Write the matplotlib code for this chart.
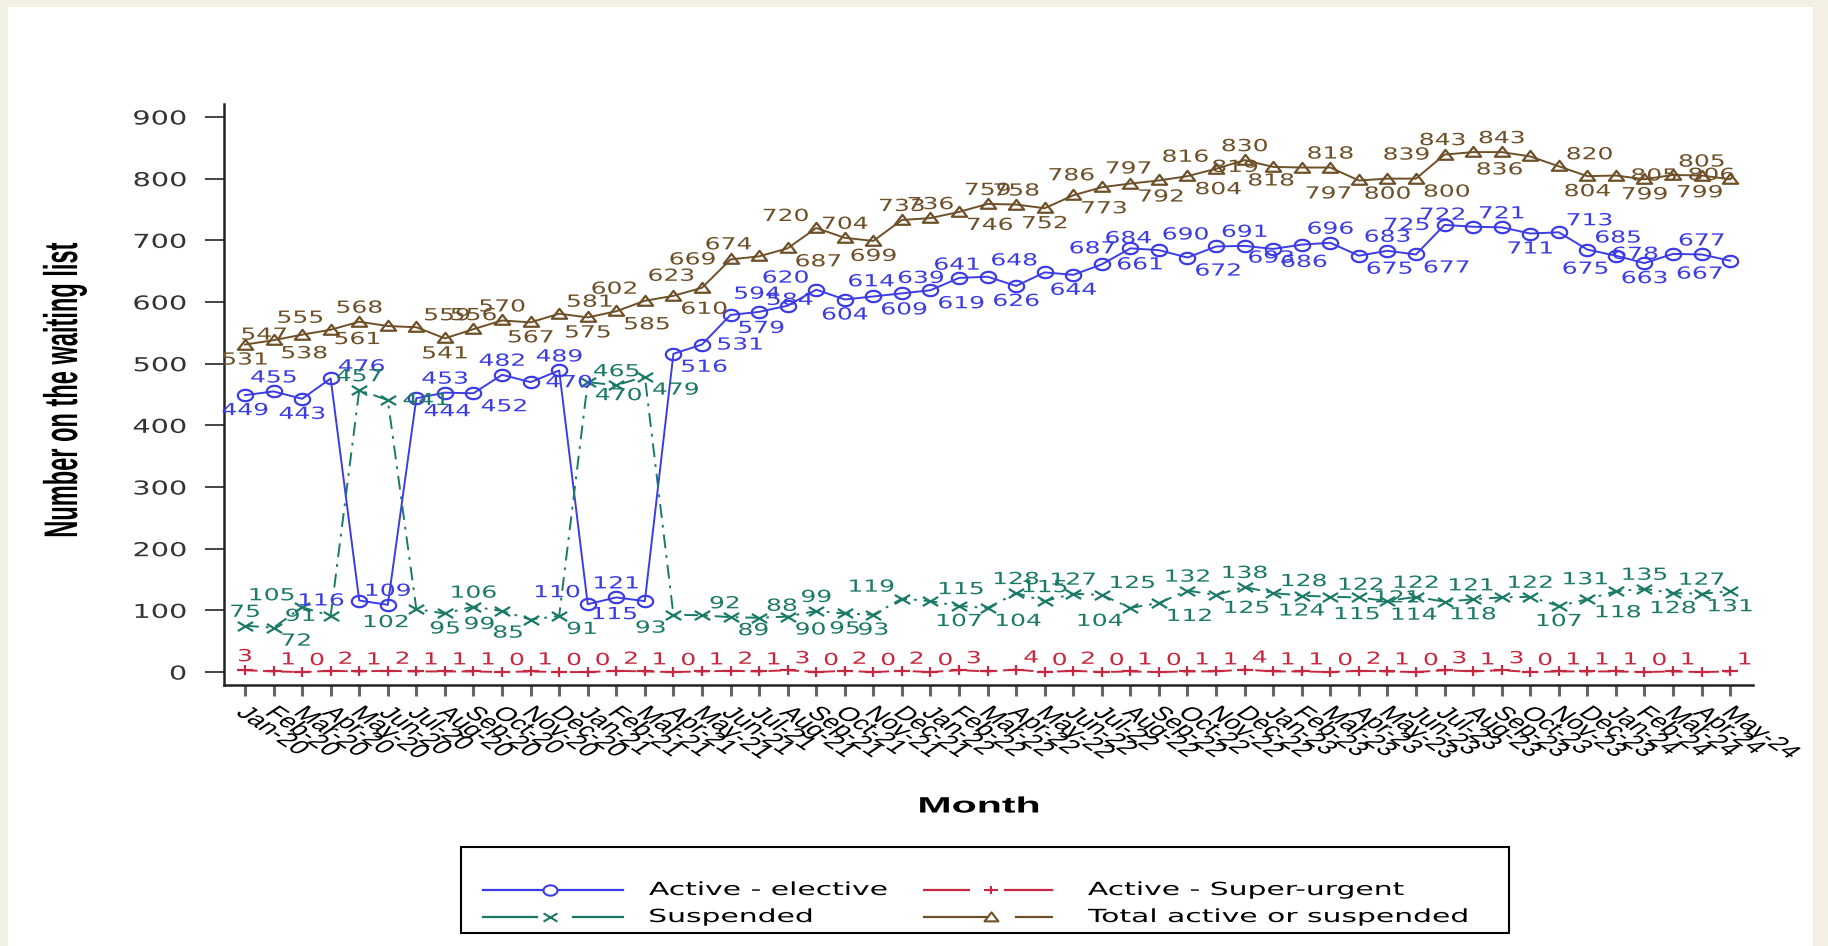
import numpy as np
import matplotlib
matplotlib.use("Agg")
import matplotlib.pyplot as plt
from matplotlib.path import Path
from matplotlib.patheffects import AbstractPathEffect
from matplotlib.transforms import Affine2D
from matplotlib.lines import Line2D
from matplotlib.patches import Rectangle

# ---- data -------------------------------------------------------------
month_names = ["Jan", "Feb", "Mar", "Apr", "May", "Jun",
               "Jul", "Aug", "Sep", "Oct", "Nov", "Dec"]
years = ["20", "21", "22", "23", "24"]
n_months = 53
months = [f"{m}-{y}" for y in years for m in month_names][:n_months]

elective = [449, 455, 443, 476, 116, 109, 444, 453, 452, 482, 470, 489, 110, 121,
            115, 516, 531, 579, 584, 594, 620, 604, 609, 614, 619, 639, 641, 626,
            648, 644, 661, 687, 684, 672, 690, 691, 686, 693, 696, 675, 683, 677,
            725, 722, 721, 711, 713, 685, 675, 663, 678, 677, 667]
super_urgent = [3, 1, 0, 2, 1, 2, 1, 1, 1, 0, 1, 0, 0, 2, 1, 0, 1, 2, 1, 3, 0, 2,
                0, 2, 0, 3, 1, 4, 0, 2, 0, 1, 0, 1, 1, 4, 1, 1, 0, 2, 1, 0, 3, 1,
                3, 0, 1, 1, 1, 0, 1, 0, 1]
suspended = [75, 72, 105, 91, 457, 441, 102, 95, 106, 99, 85, 91, 470, 465, 479,
             93, 92, 89, 88, 90, 99, 95, 93, 119, 115, 107, 104, 128, 115, 127,
             125, 104, 112, 132, 125, 138, 128, 124, 122, 121, 115, 122, 114, 118,
             121, 122, 107, 118, 131, 135, 128, 127, 131]
total = [531, 538, 547, 555, 568, 561, 559, 541, 556, 570, 567, 581, 575, 585,
         602, 610, 623, 669, 674, 687, 720, 704, 699, 733, 736, 746, 759, 758,
         752, 773, 786, 792, 797, 804, 816, 830, 819, 818, 818, 797, 800, 800,
         839, 843, 843, 836, 820, 804, 805, 799, 806, 805, 799]

# where each point label sits (compass direction, "-" = not shown)
elective_pos = ("S N S NE W N SE N SE N E N NW N SW SE E SE NE NW NW S SE NW SE W "
                "NW S NW S E W NW SE NW N SE SW N SE N SE W NW N S NE NE SW S W N SW").split()
suspended_pos = ("N SE NW W N E SW S N SW SW SE SE N SE SW NE SE NE SE N S S NW NE S "
                 "SE N N N NE SW SE N SE N NE S NE E SW N SW S NW N S SE NW N S N S").split()
total_pos = ("S SE W NW N SW NE S N N S NE S SE NW SE NW W NW SE NW N S N N SE N N S SE "
             "NW SE NW SE NW N W SW N SW S SE W NW N SW NE S E S E N SW").split()
urgent_pos = ["N"] + ["NE"] * 52
urgent_pos[26] = "-"
urgent_pos[51] = "-"

series_names = ["Active - elective", "Active - Super-urgent",
                "Suspended", "Total active or suspended"]

BLUE = "#3c3ce6"
RED = "#c8283f"
TEAL = "#1b7a67"
BROWN = "#6e5028"
BEIGE = "#f2f0e2"

W, H = 1828, 946
SX = 1.5      # horizontal widening of glyphs
MX = 1.35     # horizontal widening of markers


class StretchX(AbstractPathEffect):
    """Widen text glyphs horizontally around the left, centre or right edge."""

    def __init__(self, sx, about="center"):
        super().__init__()
        self.sx = sx
        self.about = about

    def draw_path(self, renderer, gc, tpath, affine, rgbFace=None):
        ext = tpath.get_extents(affine)
        if self.about == "left":
            cx = ext.x0
        elif self.about == "right":
            cx = ext.x1
        else:
            cx = 0.5 * (ext.x0 + ext.x1)
        aff = Affine2D(affine.get_matrix()).translate(-cx, 0).scale(self.sx, 1).translate(cx, 0)
        renderer.draw_path(gc, tpath, aff, rgbFace)


def wide(about="center", sx=SX):
    return [StretchX(sx, about)]


# stretched marker shapes
t = np.linspace(0, 2 * np.pi, 64)
circle_m = Path(np.column_stack([MX * np.cos(t), np.sin(t)]), closed=True)
tri_m = Path([(0, 1), (-MX, -0.75), (MX, -0.75), (0, 1)], closed=True)
x_m = Path([(-MX, -0.8), (MX, 0.8), (-MX, 0.8), (MX, -0.8)],
           [Path.MOVETO, Path.LINETO, Path.MOVETO, Path.LINETO])
plus_m = Path([(-MX, 0), (MX, 0), (0, -0.8), (0, 0.8)],
              [Path.MOVETO, Path.LINETO, Path.MOVETO, Path.LINETO])

plt.rcParams["lines.scale_dashes"] = False

fig = plt.figure(figsize=(W / 100, H / 100), dpi=100)
fig.patch.set_facecolor(BEIGE)
fig.add_artist(Rectangle((8 / W, 0), (1813 - 8) / W, (H - 7) / H,
                         transform=fig.transFigure, facecolor="white",
                         edgecolor="none", zorder=0))

ax = fig.add_axes([224 / W, 1 - 685 / H, (1753 - 224) / W, (685 - 104) / H])
ax.set_facecolor("white")
x = np.arange(n_months)

styles = [
    (elective, BLUE, circle_m, "-", elective_pos),
    (super_urgent, RED, plus_m, (0, (9, 4)), urgent_pos),
    (suspended, TEAL, x_m, (0, (10, 5, 2, 5)), suspended_pos),
    (total, BROWN, tri_m, "-", total_pos),
]

OFFS = {
    "N": (0, 5, "center", "bottom"),
    "S": (0, -6, "center", "top"),
    "E": (10, 0, "left", "center"),
    "W": (-10, 0, "right", "center"),
    "NE": (5, 3, "left", "bottom"),
    "NW": (-5, 3, "right", "bottom"),
    "SE": (5, -4, "left", "top"),
    "SW": (-5, -4, "right", "top"),
}

for vals, col, mk, ls, pos in styles:
    ax.plot(x, vals, color=col, lw=1.4, linestyle=ls, marker=mk, ms=11,
            mfc="none", mec=col, mew=1.6, zorder=3)
    for xi, v, p in zip(x, vals, pos):
        if p == "-":
            continue
        dx, dy, ha, va = OFFS[p]
        ax.annotate(str(v), (xi, v), xytext=(dx * SX, dy), textcoords="offset pixels",
                    ha=ha, va=va, color=col, fontsize=12, zorder=4,
                    annotation_clip=False, path_effects=wide(ha))

ax.set_xlim(-0.735, 52.8)
ax.set_ylim(-21, 921)
ax.set_yticks(range(0, 901, 100))
ax.set_xticks(x)
ax.set_xticklabels(months, rotation=-45, ha="left", va="top",
                   rotation_mode="anchor", fontsize=14,
                   family=["Liberation Sans", "DejaVu Sans"], path_effects=wide("left"))
for lab in ax.get_yticklabels():
    lab.set_path_effects(wide("right"))
    lab.set_fontsize(13.8)
    lab.set_color("#333333")

for s in ["top", "right"]:
    ax.spines[s].set_visible(False)
for s in ["left", "bottom"]:
    ax.spines[s].set_linewidth(1.8)
    ax.spines[s].set_color("#222222")
ax.tick_params(axis="y", length=14, width=1.4, color="#444444", pad=13)
ax.tick_params(axis="x", length=8, width=2.2, color="#666666", pad=6)

ax.set_ylabel("Number on the waiting list", fontsize=17, fontweight="bold",
              family=["Liberation Sans Narrow", "Liberation Sans", "DejaVu Sans"],
              path_effects=wide("center", 2.0))
ax.yaxis.set_label_coords((76 - 224) / 1529, 0.508)

fig.text(979 / W, 1 - 807 / H, "Month", ha="center", va="center", fontsize=16,
         fontweight="bold", family=["Liberation Sans", "DejaVu Sans"],
         path_effects=wide("center", 1.85))

# ---- legend box -------------------------------------------------------
def fx(px):
    return px / W


def fy(py):
    return 1 - py / H


fig.add_artist(Rectangle((fx(461), fy(933)), (1509 - 461) / W, (933 - 847) / H,
                         transform=fig.transFigure, facecolor="white",
                         edgecolor="black", lw=1.5, zorder=5))
# (series, handle start, marker x, handle end, text x, row y, gap left, gap right)
legend_rows = [(0, 483, 550, 623, 649, 890, 0, 0),
               (1, 924, 991, 1052, 1088, 890, 22, 14),
               (2, 483, 550, 623, 649, 917, 13, 23),
               (3, 924, 991, 1052, 1088, 917, 4, 25)]
for k, x0, xm, x1, xt, yy, g0, g1 in legend_rows:
    vals, col, mk, ls, pos = styles[k]
    if g0 == 0 and g1 == 0:
        segs = [(x0, x1)]
    else:
        segs = [(x0, xm - g0), (xm + g1, x1)]
    for a, b in segs:
        fig.add_artist(Line2D([fx(a), fx(b)], [fy(yy), fy(yy)], transform=fig.transFigure,
                              color=col, lw=1.6, zorder=6))
    fig.add_artist(Line2D([fx(xm)], [fy(yy)], transform=fig.transFigure,
                          color=col, marker=mk, ms=10, mfc="white", mec=col, mew=1.5,
                          zorder=7))
    fig.text(fx(xt), fy(yy), series_names[k], ha="left", va="center", fontsize=13,
             color="black", zorder=7, path_effects=wide("left", 1.65))

fig.savefig("out.png", dpi=100, facecolor=fig.get_facecolor())
